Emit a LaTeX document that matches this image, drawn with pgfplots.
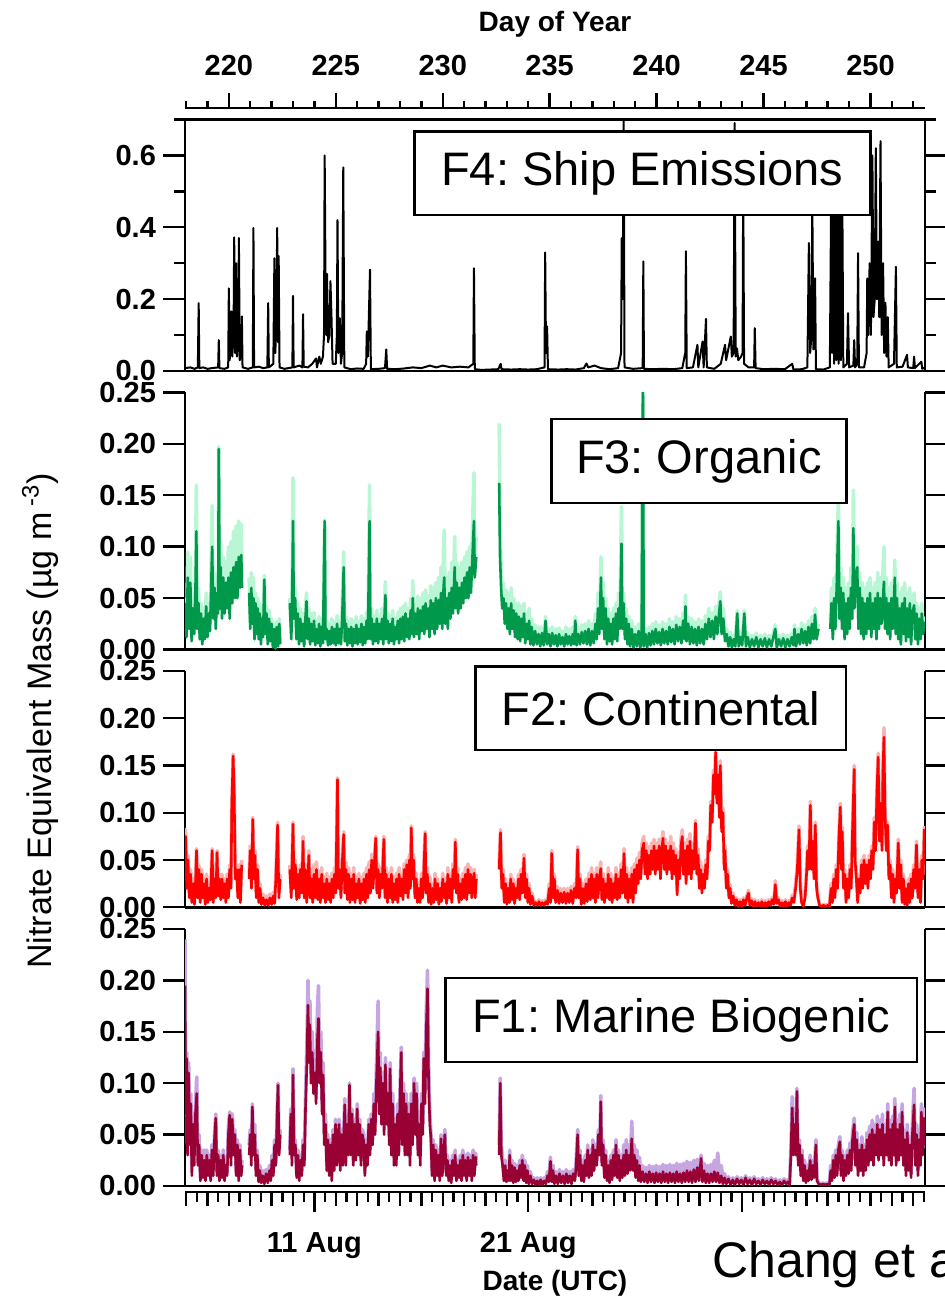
\documentclass[border=0pt]{standalone}
\usepackage{fontspec}
\setmainfont{Liberation Sans}
\usepackage{pgfplots}
\usepackage{pgfplotstable}
\pgfplotsset{compat=1.18}
\frenchspacing
\definecolor{gdark}{RGB}{0,153,76}
\definecolor{glight}{RGB}{185,246,214}
\definecolor{rdark}{RGB}{255,0,0}
\definecolor{rlight}{RGB}{246,182,182}
\definecolor{mdark}{RGB}{153,0,51}
\definecolor{mlight}{RGB}{198,166,224}
\newcommand\tickfont{\fontsize{14.5}{16}\selectfont\bfseries}
\newcommand\labfont{\fontsize{14}{16}\selectfont\bfseries}
\newcommand\boxfont{\fontsize{23.5}{28}\selectfont}

\pgfplotstableread{
x d
217.95 0.008
218.20 0.01
218.40 0.006
218.55 0.01
218.59 0.189
218.62 0.008
218.80 0.01
219.00 0.006
219.20 0.008
219.50 0.01
219.53 0.086
219.56 0.008
219.80 0.006
219.97 0.01
220.00 0.23
220.04 0.03
220.08 0.1
220.12 0.166
220.16 0.04
220.22 0.1
220.25 0.372
220.29 0.05
220.34 0.30
220.38 0.04
220.44 0.1
220.47 0.37
220.51 0.03
220.58 0.05
220.61 0.152
220.64 0.01
220.90 0.006
221.12 0.01
221.15 0.398
221.18 0.01
221.40 0.012
221.60 0.008
221.80 0.01
221.84 0.189
221.87 0.01
222.08 0.02
222.13 0.314
222.17 0.05
222.22 0.12
222.26 0.398
222.30 0.08
222.33 0.32
222.37 0.01
222.60 0.006
222.97 0.01
223.00 0.209
223.03 0.01
223.30 0.015
223.44 0.01
223.47 0.158
223.50 0.012
223.70 0.01
223.90 0.02
224.08 0.035
224.12 0.01
224.23 0.04
224.30 0.02
224.40 0.04
224.45 0.1
224.48 0.60
224.52 0.26
224.56 0.1
224.59 0.27
224.64 0.08
224.70 0.1
224.75 0.25
224.80 0.15
224.85 0.02
225.00 0.02
225.05 0.1
225.08 0.42
225.12 0.05
225.19 0.147
225.24 0.02
225.30 0.05
225.35 0.567
225.40 0.01
225.70 0.005
226.00 0.007
226.30 0.006
226.42 0.02
226.45 0.11
226.50 0.04
226.60 0.282
226.64 0.005
227.00 0.006
227.30 0.008
227.36 0.06
227.40 0.006
227.80 0.005
228.20 0.007
228.60 0.01
229.00 0.008
229.40 0.015
229.70 0.01
230.00 0.015
230.40 0.01
230.80 0.012
231.20 0.01
231.43 0.02
231.46 0.286
231.50 0.005
231.80 0.003
232.20 0.004
232.60 0.005
232.71 0.02
232.75 0.005
233.20 0.004
233.60 0.005
234.00 0.004
234.40 0.005
234.76 0.01
234.79 0.33
234.83 0.05
234.88 0.124
234.92 0.005
235.40 0.004
235.80 0.005
236.20 0.004
236.60 0.008
236.72 0.021
236.80 0.01
237.10 0.015
237.40 0.008
237.80 0.005
238.20 0.008
238.34 0.05
238.37 0.37
238.42 0.2
238.46 0.75
238.50 0.01
238.90 0.006
239.35 0.008
239.38 0.305
239.41 0.006
239.80 0.005
240.30 0.006
240.80 0.005
241.20 0.008
241.34 0.05
241.37 0.333
241.41 0.008
241.70 0.01
241.91 0.073
241.95 0.01
242.15 0.082
242.20 0.01
242.31 0.145
242.35 0.01
242.70 0.006
243.00 0.02
243.20 0.073
243.25 0.03
243.47 0.096
243.52 0.04
243.60 0.05
243.65 0.69
243.70 0.04
243.76 0.063
243.82 0.03
243.95 0.04
244.02 0.05
244.05 0.55
244.09 0.02
244.30 0.01
244.56 0.01
244.59 0.119
244.63 0.008
245.00 0.005
245.50 0.006
246.00 0.005
246.34 0.02
246.40 0.004
246.80 0.005
247.05 0.01
247.12 0.356
247.18 0.05
247.24 0.1
247.28 0.48
247.33 0.06
247.37 0.1
247.41 0.258
247.45 0.005
247.80 0.004
248.10 0.01
248.17 0.55
248.21 0.05
248.26 0.45
248.30 0.02
248.35 0.60
248.40 0.03
248.46 0.50
248.51 0.02
248.57 0.45
248.62 0.03
248.68 0.52
248.73 0.01
248.90 0.02
248.95 0.161
249.00 0.01
249.20 0.015
249.24 0.086
249.28 0.01
249.38 0.02
249.42 0.328
249.46 0.01
249.70 0.01
249.82 0.05
249.85 0.258
249.90 0.1
249.96 0.30
250.02 0.1
250.09 0.60
250.14 0.15
250.20 0.2
250.25 0.62
250.30 0.2
250.36 0.36
250.41 0.15
250.47 0.64
250.52 0.1
250.59 0.3
250.64 0.05
250.70 0.19
250.75 0.04
250.81 0.15
250.85 0.01
251.10 0.02
251.19 0.29
251.23 0.01
251.50 0.012
251.71 0.045
251.75 0.01
252.00 0.008
252.04 0.04
252.08 0.008
252.38 0.026
252.42 0.006
252.55 0.01
}\tabFfour

\pgfplotstableread{
x d l
217.95 0.045 0.05
218.02 0.012 0.015
218.08 0.07 0.095
218.14 0.02 0.03
218.20 0.065 0.09
218.26 0.008 0.01
218.32 0.04 0.05
218.38 0.015 0.02
218.44 0.06 0.075
218.48 0.115 0.16
218.52 0.02 0.03
218.58 0.045 0.06
218.64 0.01 0.012
218.70 0.035 0.045
218.76 0.005 0.008
218.82 0.03 0.04
218.88 0.01 0.015
218.94 0.042 0.055
219.00 0.012 0.02
219.06 0.035 0.045
219.12 0.018 0.025
219.18 0.065 0.09
219.22 0.10 0.14
219.27 0.03 0.04
219.33 0.06 0.075
219.39 0.02 0.03
219.45 0.055 0.07
219.50 0.035 0.045
219.53 0.195 0.197
219.57 0.04 0.05
219.62 0.08 0.105
219.68 0.03 0.045
219.74 0.07 0.09
219.80 0.035 0.05
219.86 0.065 0.085
219.92 0.04 0.055
219.98 0.07 0.10
220.04 0.03 0.045
220.10 0.075 0.105
220.16 0.045 0.06
220.22 0.08 0.115
220.28 0.05 0.065
220.34 0.085 0.12
220.40 0.05 0.07
220.46 0.09 0.125
220.52 0.06 0.08
220.58 0.092 0.122
220.62 0.06 0.07
220.80 nan nan
220.95 0.055 0.07
221.00 0.02 0.03
221.05 0.06 0.075
221.10 0.025 0.035
221.15 0.05 0.07
221.20 0.01 0.015
221.25 0.045 0.055
221.30 0.015 0.02
221.35 0.04 0.05
221.40 0.01 0.015
221.45 0.035 0.045
221.50 0.005 0.01
221.55 0.03 0.04
221.60 0.012 0.02
221.66 0.068 0.072
221.70 0.015 0.02
221.76 0.035 0.042
221.82 0.005 0.01
221.88 0.03 0.038
221.94 0.008 0.012
222.00 0.025 0.03
222.06 0.002 0.004
222.12 0.02 0.025
222.18 0.001 0.002
222.24 0.022 0.027
222.30 0.003 0.005
222.36 0.025 0.03
222.40 0.005 0.006
222.60 nan nan
222.85 0.045 0.05
222.92 0.01 0.015
222.97 0.06 0.09
223.00 0.125 0.167
223.04 0.03 0.04
223.10 0.05 0.06
223.16 0.01 0.015
223.22 0.035 0.045
223.28 0.005 0.008
223.34 0.03 0.04
223.40 0.008 0.01
223.46 0.025 0.035
223.52 0.003 0.005
223.58 0.03 0.038
223.63 0.047 0.055
223.68 0.01 0.015
223.74 0.03 0.04
223.80 0.005 0.008
223.86 0.025 0.035
223.92 0.008 0.012
223.98 0.028 0.036
224.04 0.004 0.006
224.10 0.02 0.028
224.16 0.006 0.01
224.22 0.025 0.032
224.28 0.003 0.005
224.34 0.022 0.03
224.40 0.006 0.01
224.48 0.125 0.126
224.52 0.01 0.015
224.58 0.02 0.028
224.64 0.004 0.006
224.70 0.018 0.025
224.76 0.005 0.008
224.82 0.022 0.03
224.88 0.006 0.01
224.94 0.02 0.027
225.00 0.004 0.006
225.06 0.025 0.033
225.12 0.006 0.01
225.18 0.02 0.028
225.24 0.005 0.008
225.30 0.03 0.04
225.37 0.08 0.095
225.42 0.008 0.012
225.48 0.025 0.032
225.54 0.004 0.006
225.60 0.02 0.027
225.66 0.006 0.01
225.72 0.022 0.03
225.78 0.003 0.005
225.84 0.02 0.028
225.90 0.006 0.01
225.96 0.024 0.032
226.02 0.005 0.008
226.08 0.02 0.027
226.14 0.007 0.01
226.20 0.025 0.033
226.26 0.004 0.006
226.32 0.022 0.03
226.38 0.006 0.01
226.44 0.028 0.036
226.50 0.01 0.014
226.58 0.125 0.16
226.62 0.01 0.015
226.68 0.03 0.04
226.74 0.005 0.008
226.80 0.025 0.033
226.86 0.008 0.012
226.92 0.03 0.038
226.98 0.006 0.01
227.04 0.025 0.033
227.10 0.01 0.014
227.16 0.03 0.04
227.22 0.005 0.008
227.32 0.053 0.066
227.36 0.01 0.015
227.42 0.028 0.036
227.48 0.006 0.01
227.54 0.025 0.033
227.60 0.008 0.012
227.66 0.03 0.038
227.72 0.005 0.008
227.78 0.022 0.03
227.84 0.01 0.014
227.90 0.028 0.036
227.96 0.006 0.01
228.02 0.03 0.04
228.08 0.01 0.014
228.14 0.032 0.042
228.20 0.008 0.012
228.26 0.035 0.045
228.32 0.012 0.018
228.38 0.03 0.04
228.44 0.01 0.015
228.50 0.038 0.05
228.56 0.015 0.02
228.60 0.05 0.067
228.66 0.012 0.018
228.72 0.035 0.045
228.78 0.015 0.02
228.84 0.04 0.052
228.90 0.01 0.015
228.96 0.038 0.05
229.02 0.018 0.025
229.08 0.042 0.055
229.14 0.015 0.02
229.20 0.045 0.058
229.26 0.02 0.028
229.32 0.04 0.052
229.38 0.012 0.018
229.44 0.048 0.062
229.50 0.02 0.028
229.56 0.045 0.06
229.62 0.015 0.022
229.68 0.05 0.065
229.74 0.02 0.03
229.80 0.048 0.07
229.86 0.025 0.035
229.92 0.055 0.08
229.98 0.02 0.03
230.04 0.06 0.10
230.07 0.07 0.116
230.12 0.025 0.035
230.18 0.05 0.07
230.24 0.02 0.03
230.30 0.055 0.075
230.36 0.03 0.04
230.42 0.06 0.085
230.48 0.035 0.045
230.56 0.08 0.11
230.60 0.04 0.055
230.66 0.065 0.085
230.72 0.035 0.048
230.78 0.06 0.08
230.84 0.04 0.055
230.90 0.065 0.085
230.96 0.045 0.06
231.02 0.07 0.09
231.08 0.05 0.065
231.14 0.075 0.095
231.20 0.05 0.068
231.26 0.08 0.10
231.32 0.055 0.072
231.38 0.085 0.11
231.46 0.125 0.172
231.50 0.07 0.09
231.57 0.09 0.11
232.00 nan nan
232.64 0.162 0.22
232.68 0.09 0.12
232.73 0.06 0.08
232.78 0.04 0.05
232.84 0.05 0.065
232.90 0.025 0.035
232.96 0.045 0.058
233.02 0.02 0.03
233.08 0.04 0.055
233.14 0.015 0.022
233.20 0.045 0.06
233.26 0.02 0.028
233.32 0.038 0.05
233.38 0.012 0.018
233.44 0.035 0.045
233.50 0.01 0.015
233.56 0.032 0.045
233.62 0.008 0.012
233.68 0.03 0.042
233.74 0.012 0.016
233.80 0.035 0.045
233.86 0.006 0.01
233.92 0.025 0.035
233.98 0.01 0.014
234.04 0.028 0.04
234.10 0.005 0.008
234.16 0.022 0.03
234.24 0.004 0.006
234.32 0.018 0.024
234.40 0.005 0.008
234.48 0.015 0.022
234.56 0.003 0.005
234.64 0.016 0.022
234.72 0.004 0.006
234.81 0.028 0.032
234.88 0.005 0.008
234.96 0.015 0.02
235.04 0.003 0.005
235.12 0.016 0.022
235.20 0.005 0.008
235.28 0.014 0.02
235.36 0.003 0.005
235.44 0.015 0.021
235.52 0.005 0.008
235.60 0.012 0.018
235.68 0.003 0.005
235.76 0.015 0.022
235.84 0.005 0.008
235.92 0.013 0.02
236.00 0.004 0.006
236.08 0.015 0.022
236.14 0.005 0.008
236.20 0.028 0.032
236.26 0.004 0.006
236.34 0.015 0.022
236.42 0.005 0.008
236.50 0.017 0.024
236.58 0.006 0.009
236.66 0.018 0.025
236.74 0.005 0.008
236.82 0.02 0.028
236.90 0.004 0.006
236.98 0.018 0.025
237.06 0.006 0.01
237.14 0.025 0.035
237.20 0.01 0.015
237.26 0.04 0.055
237.32 0.015 0.02
237.40 0.07 0.09
237.44 0.02 0.03
237.50 0.05 0.065
237.56 0.01 0.015
237.62 0.04 0.05
237.68 0.005 0.008
237.74 0.03 0.04
237.80 0.008 0.012
237.86 0.025 0.035
237.92 0.005 0.008
237.98 0.03 0.04
238.04 0.01 0.015
238.10 0.035 0.045
238.16 0.008 0.012
238.22 0.04 0.055
238.28 0.02 0.03
238.36 0.103 0.139
238.40 0.02 0.03
238.46 0.045 0.055
238.52 0.01 0.014
238.58 0.03 0.04
238.64 0.005 0.008
238.70 0.025 0.032
238.76 0.003 0.005
238.84 0.02 0.028
238.92 0.002 0.004
239.00 0.015 0.022
239.08 0.003 0.005
239.16 0.018 0.025
239.24 0.002 0.004
239.30 0.01 0.014
239.36 0.26 0.26
239.40 0.003 0.005
239.48 0.015 0.02
239.56 0.002 0.004
239.64 0.016 0.022
239.72 0.004 0.006
239.80 0.018 0.025
239.88 0.005 0.008
239.96 0.02 0.027
240.04 0.006 0.009
240.12 0.017 0.024
240.20 0.004 0.006
240.28 0.02 0.027
240.36 0.006 0.009
240.44 0.018 0.025
240.52 0.005 0.008
240.60 0.022 0.03
240.68 0.007 0.01
240.76 0.02 0.027
240.84 0.005 0.008
240.92 0.024 0.032
241.00 0.008 0.012
241.08 0.022 0.03
241.16 0.006 0.009
241.24 0.028 0.036
241.30 0.01 0.014
241.35 0.042 0.053
241.40 0.008 0.012
241.48 0.025 0.032
241.56 0.005 0.008
241.64 0.022 0.03
241.72 0.006 0.009
241.80 0.02 0.027
241.88 0.004 0.006
241.96 0.022 0.03
242.04 0.006 0.009
242.12 0.02 0.028
242.20 0.005 0.008
242.28 0.025 0.033
242.36 0.01 0.014
242.44 0.03 0.04
242.52 0.012 0.017
242.60 0.028 0.036
242.68 0.01 0.014
242.76 0.032 0.042
242.84 0.015 0.02
242.92 0.035 0.045
242.98 0.047 0.056
243.04 0.015 0.02
243.12 0.03 0.04
243.20 0.008 0.012
243.28 0.015 0.02
243.36 0.003 0.005
243.44 0.012 0.017
243.52 0.002 0.004
243.60 0.01 0.014
243.68 0.003 0.005
243.77 0.035 0.038
243.84 0.003 0.005
243.92 0.012 0.017
244.00 0.004 0.006
244.10 0.035 0.038
244.18 0.003 0.005
244.26 0.012 0.016
244.36 0.002 0.004
244.46 0.01 0.014
244.56 0.003 0.005
244.66 0.012 0.016
244.76 0.002 0.004
244.86 0.01 0.014
244.96 0.003 0.005
245.06 0.011 0.015
245.16 0.002 0.004
245.26 0.01 0.014
245.36 0.003 0.005
245.46 0.012 0.016
245.55 0.02 0.024
245.62 0.002 0.004
245.72 0.01 0.014
245.82 0.003 0.005
245.92 0.011 0.015
246.02 0.002 0.004
246.12 0.01 0.014
246.22 0.003 0.005
246.32 0.012 0.016
246.40 0.004 0.006
246.45 0.02 0.024
246.52 0.003 0.005
246.62 0.015 0.02
246.70 0.005 0.008
246.78 0.02 0.026
246.86 0.006 0.009
246.94 0.018 0.024
247.02 0.004 0.006
247.10 0.022 0.028
247.18 0.006 0.009
247.26 0.025 0.032
247.34 0.01 0.014
247.41 0.034 0.04
247.48 0.01 0.014
247.57 0.02 0.025
247.80 nan nan
248.12 0.02 0.03
248.18 0.045 0.06
248.24 0.01 0.015
248.30 0.05 0.07
248.36 0.02 0.03
248.42 0.06 0.08
248.50 0.125 0.147
248.55 0.03 0.04
248.61 0.06 0.08
248.67 0.02 0.03
248.73 0.055 0.07
248.79 0.01 0.015
248.85 0.045 0.06
248.91 0.015 0.02
248.97 0.05 0.065
249.03 0.02 0.03
249.09 0.06 0.08
249.15 0.03 0.04
249.20 0.118 0.155
249.25 0.04 0.05
249.32 0.07 0.09
249.38 0.08 0.10
249.44 0.02 0.03
249.50 0.06 0.075
249.56 0.015 0.02
249.62 0.05 0.065
249.68 0.01 0.015
249.74 0.045 0.06
249.80 0.015 0.02
249.86 0.05 0.065
249.92 0.02 0.03
249.98 0.055 0.07
250.04 0.012 0.018
250.10 0.045 0.06
250.16 0.02 0.028
250.22 0.05 0.065
250.28 0.01 0.015
250.34 0.055 0.075
250.40 0.02 0.03
250.46 0.05 0.07
250.52 0.025 0.035
250.63 0.066 0.10
250.68 0.02 0.03
250.74 0.05 0.07
250.80 0.015 0.02
250.86 0.045 0.06
250.92 0.01 0.015
250.98 0.05 0.065
251.04 0.02 0.028
251.14 0.07 0.087
251.18 0.015 0.02
251.24 0.05 0.065
251.30 0.01 0.015
251.36 0.04 0.055
251.42 0.005 0.008
251.48 0.045 0.06
251.54 0.015 0.02
251.60 0.05 0.065
251.66 0.008 0.012
251.72 0.04 0.055
251.78 0.012 0.018
251.84 0.045 0.06
251.90 0.005 0.008
251.96 0.035 0.045
252.04 0.043 0.055
252.10 0.01 0.015
252.16 0.035 0.045
252.22 0.005 0.008
252.28 0.03 0.04
252.34 0.01 0.015
252.40 0.035 0.045
252.46 0.015 0.02
252.52 0.027 0.032
}\tabFthree

\pgfplotstableread{
x d l
217.95 0.06 0.065
217.98 0.075 0.082
218.03 0.02 0.03
218.09 0.05 0.055
218.15 0.01 0.015
218.21 0.035 0.04
218.27 0.005 0.008
218.33 0.025 0.03
218.39 0.003 0.005
218.45 0.03 0.035
218.49 0.06 0.062
218.54 0.01 0.015
218.60 0.04 0.045
218.66 0.005 0.008
218.72 0.035 0.04
218.78 0.01 0.015
218.84 0.025 0.03
218.90 0.003 0.005
218.96 0.03 0.035
219.02 0.005 0.008
219.08 0.02 0.025
219.14 0.008 0.01
219.22 0.06 0.062
219.27 0.005 0.008
219.33 0.03 0.035
219.39 0.01 0.015
219.45 0.058 0.06
219.50 0.012 0.018
219.56 0.03 0.035
219.62 0.008 0.01
219.68 0.03 0.035
219.74 0.01 0.015
219.80 0.025 0.03
219.86 0.005 0.008
219.92 0.03 0.035
219.98 0.01 0.015
220.04 0.04 0.045
220.10 0.02 0.025
220.14 0.108 0.11
220.20 0.16 0.162
220.25 0.12 0.125
220.30 0.03 0.035
220.36 0.04 0.045
220.42 0.01 0.015
220.48 0.04 0.045
220.54 0.005 0.008
220.60 0.045 0.05
220.80 nan nan
220.95 0.03 0.035
221.00 0.06 0.065
221.06 0.02 0.025
221.12 0.093 0.095
221.17 0.03 0.035
221.22 0.055 0.06
221.28 0.01 0.015
221.34 0.04 0.045
221.40 0.005 0.008
221.46 0.02 0.025
221.52 0.003 0.005
221.60 0.01 0.014
221.68 0.002 0.004
221.76 0.008 0.012
221.84 0.002 0.004
221.92 0.01 0.014
222.00 0.003 0.005
222.08 0.012 0.016
222.14 0.004 0.006
222.20 0.03 0.035
222.28 0.087 0.09
222.34 0.01 0.015
222.40 0.03 0.035
222.60 nan nan
222.85 0.04 0.045
222.92 0.01 0.015
223.00 0.088 0.09
223.05 0.02 0.025
223.11 0.045 0.05
223.17 0.008 0.012
223.23 0.035 0.04
223.29 0.01 0.015
223.35 0.04 0.045
223.41 0.015 0.02
223.47 0.07 0.075
223.52 0.01 0.015
223.58 0.04 0.045
223.64 0.005 0.008
223.70 0.03 0.035
223.74 0.055 0.06
223.80 0.01 0.015
223.86 0.03 0.04
223.92 0.005 0.008
223.98 0.035 0.045
224.04 0.01 0.015
224.10 0.04 0.048
224.16 0.008 0.012
224.22 0.03 0.038
224.28 0.005 0.008
224.34 0.035 0.042
224.40 0.01 0.015
224.46 0.025 0.032
224.52 0.005 0.008
224.58 0.03 0.036
224.64 0.008 0.012
224.70 0.025 0.032
224.76 0.005 0.008
224.82 0.03 0.036
224.88 0.01 0.015
224.94 0.035 0.042
225.00 0.015 0.02
225.08 0.135 0.137
225.12 0.02 0.025
225.18 0.04 0.048
225.24 0.01 0.015
225.30 0.045 0.05
225.37 0.077 0.08
225.42 0.015 0.02
225.48 0.04 0.048
225.54 0.008 0.012
225.60 0.035 0.042
225.66 0.005 0.008
225.72 0.03 0.036
225.78 0.008 0.012
225.84 0.035 0.042
225.90 0.005 0.008
225.96 0.025 0.032
226.02 0.01 0.015
226.08 0.03 0.036
226.14 0.004 0.006
226.20 0.025 0.032
226.26 0.008 0.012
226.32 0.03 0.036
226.38 0.005 0.008
226.44 0.035 0.042
226.50 0.01 0.015
226.56 0.04 0.048
226.62 0.015 0.02
226.68 0.05 0.056
226.74 0.02 0.025
226.80 0.045 0.05
226.87 0.073 0.075
226.92 0.015 0.02
226.98 0.04 0.046
227.04 0.01 0.015
227.10 0.035 0.042
227.16 0.02 0.025
227.25 0.072 0.075
227.30 0.01 0.015
227.36 0.035 0.042
227.42 0.005 0.008
227.48 0.03 0.036
227.54 0.01 0.015
227.60 0.035 0.042
227.66 0.005 0.008
227.72 0.025 0.032
227.78 0.008 0.012
227.84 0.03 0.036
227.90 0.005 0.008
227.96 0.035 0.042
228.02 0.012 0.017
228.08 0.03 0.036
228.14 0.008 0.012
228.20 0.04 0.046
228.26 0.015 0.02
228.32 0.045 0.05
228.38 0.01 0.015
228.44 0.05 0.056
228.49 0.02 0.025
228.53 0.084 0.086
228.58 0.03 0.035
228.64 0.05 0.056
228.70 0.01 0.015
228.76 0.03 0.036
228.82 0.005 0.008
228.88 0.02 0.025
228.94 0.005 0.008
229.00 0.03 0.036
229.06 0.01 0.015
229.12 0.04 0.046
229.18 0.078 0.08
229.22 0.015 0.02
229.28 0.035 0.042
229.34 0.005 0.008
229.40 0.025 0.032
229.46 0.003 0.005
229.52 0.02 0.025
229.58 0.005 0.008
229.64 0.03 0.036
229.70 0.008 0.012
229.76 0.025 0.03
229.82 0.003 0.005
229.88 0.02 0.025
229.94 0.006 0.01
230.00 0.03 0.036
230.06 0.01 0.015
230.12 0.025 0.03
230.18 0.004 0.006
230.24 0.035 0.042
230.30 0.01 0.015
230.36 0.03 0.036
230.42 0.005 0.008
230.48 0.04 0.046
230.54 0.02 0.025
230.59 0.069 0.072
230.64 0.015 0.02
230.70 0.035 0.042
230.76 0.005 0.008
230.82 0.025 0.03
230.88 0.008 0.012
230.94 0.03 0.036
231.00 0.01 0.015
231.06 0.035 0.042
231.12 0.008 0.012
231.18 0.04 0.046
231.24 0.015 0.02
231.30 0.035 0.042
231.36 0.01 0.015
231.42 0.03 0.036
231.47 0.036 0.04
231.52 0.01 0.015
231.57 0.03 0.035
232.00 nan nan
232.64 0.04 0.045
232.70 0.079 0.082
232.76 0.02 0.025
232.82 0.035 0.04
232.88 0.005 0.008
232.94 0.025 0.03
233.00 0.003 0.005
233.06 0.02 0.025
233.12 0.005 0.008
233.18 0.03 0.035
233.24 0.008 0.012
233.30 0.025 0.03
233.36 0.004 0.006
233.42 0.02 0.025
233.48 0.01 0.014
233.54 0.03 0.035
233.60 0.008 0.012
233.66 0.035 0.04
233.72 0.015 0.02
233.80 0.052 0.056
233.86 0.01 0.015
233.92 0.03 0.035
233.98 0.005 0.008
234.04 0.02 0.025
234.10 0.003 0.005
234.18 0.012 0.015
234.26 0.002 0.003
234.34 0.005 0.006
234.42 0.002 0.003
234.50 0.006 0.008
234.58 0.002 0.003
234.66 0.005 0.007
234.74 0.002 0.003
234.82 0.006 0.008
234.90 0.003 0.004
234.98 0.02 0.025
235.04 0.005 0.008
235.10 0.057 0.06
235.16 0.01 0.015
235.22 0.03 0.035
235.28 0.005 0.008
235.36 0.018 0.022
235.44 0.004 0.006
235.52 0.015 0.02
235.60 0.005 0.008
235.68 0.016 0.02
235.76 0.004 0.006
235.84 0.015 0.02
235.92 0.005 0.008
236.00 0.018 0.022
236.08 0.004 0.006
236.16 0.02 0.025
236.24 0.01 0.014
236.31 0.061 0.064
236.36 0.01 0.014
236.42 0.03 0.035
236.48 0.003 0.005
236.56 0.02 0.025
236.62 0.004 0.006
236.70 0.025 0.03
236.76 0.006 0.009
236.84 0.03 0.036
236.90 0.008 0.012
236.96 0.035 0.042
237.02 0.01 0.015
237.08 0.03 0.036
237.14 0.005 0.008
237.20 0.035 0.042
237.26 0.01 0.015
237.32 0.03 0.036
237.39 0.041 0.048
237.44 0.008 0.012
237.50 0.03 0.036
237.56 0.005 0.008
237.62 0.025 0.03
237.68 0.01 0.015
237.74 0.035 0.042
237.80 0.008 0.012
237.86 0.03 0.036
237.92 0.005 0.008
237.98 0.025 0.03
238.04 0.01 0.015
238.10 0.035 0.042
238.16 0.008 0.012
238.22 0.03 0.036
238.28 0.01 0.015
238.34 0.04 0.046
238.40 0.015 0.02
238.48 0.057 0.062
238.54 0.01 0.015
238.60 0.035 0.042
238.66 0.005 0.008
238.72 0.03 0.036
238.78 0.01 0.015
238.84 0.035 0.042
238.90 0.005 0.008
238.96 0.04 0.046
239.02 0.015 0.02
239.08 0.045 0.052
239.14 0.025 0.03
239.20 0.05 0.058
239.26 0.03 0.036
239.32 0.06 0.068
239.40 0.068 0.075
239.46 0.035 0.042
239.52 0.06 0.068
239.58 0.03 0.038
239.64 0.055 0.064
239.70 0.035 0.042
239.76 0.06 0.068
239.82 0.04 0.048
239.88 0.065 0.072
239.94 0.035 0.042
240.00 0.06 0.068
240.06 0.04 0.048
240.12 0.065 0.072
240.18 0.03 0.038
240.24 0.06 0.068
240.30 0.073 0.08
240.36 0.04 0.048
240.42 0.065 0.072
240.48 0.035 0.042
240.54 0.06 0.068
240.60 0.04 0.048
240.66 0.065 0.075
240.72 0.03 0.038
240.78 0.06 0.068
240.84 0.035 0.042
240.90 0.055 0.062
240.96 0.013 0.018
241.02 0.05 0.058
241.08 0.03 0.038
241.14 0.065 0.072
241.20 0.075 0.082
241.26 0.035 0.042
241.32 0.06 0.068
241.38 0.025 0.03
241.44 0.065 0.072
241.50 0.035 0.042
241.56 0.07 0.078
241.62 0.03 0.036
241.68 0.06 0.068
241.74 0.04 0.048
241.82 0.089 0.092
241.88 0.035 0.042
241.94 0.055 0.062
242.00 0.02 0.025
242.06 0.04 0.048
242.12 0.015 0.02
242.18 0.035 0.042
242.24 0.02 0.025
242.30 0.045 0.05
242.36 0.03 0.036
242.42 0.07 0.075
242.48 0.06 0.065
242.53 0.108 0.112
242.60 0.09 0.095
242.66 0.14 0.145
242.72 0.12 0.125
242.76 0.164 0.168
242.82 0.11 0.115
242.88 0.14 0.145
242.94 0.095 0.1
242.98 0.15 0.155
243.04 0.08 0.085
243.10 0.1 0.105
243.16 0.04 0.045
243.20 0.06 0.065
243.26 0.02 0.025
243.32 0.035 0.04
243.38 0.01 0.014
243.44 0.02 0.024
243.50 0.004 0.006
243.58 0.012 0.015
243.66 0.002 0.003
243.74 0.008 0.01
243.82 0.001 0.002
243.90 0.006 0.008
243.98 0.001 0.002
244.06 0.008 0.01
244.14 0.002 0.003
244.22 0.01 0.012
244.30 0.015 0.018
244.36 0.002 0.003
244.44 0.007 0.009
244.52 0.001 0.002
244.60 0.006 0.008
244.68 0.001 0.002
244.76 0.005 0.007
244.84 0.001 0.002
244.92 0.006 0.008
245.00 0.001 0.002
245.08 0.005 0.007
245.16 0.001 0.002
245.24 0.006 0.008
245.32 0.002 0.003
245.40 0.008 0.01
245.48 0.003 0.004
245.55 0.024 0.028
245.62 0.004 0.006
245.70 0.008 0.01
245.78 0.001 0.002
245.86 0.005 0.007
245.94 0.001 0.002
246.02 0.006 0.008
246.10 0.001 0.002
246.18 0.005 0.007
246.26 0.002 0.003
246.34 0.01 0.013
246.42 0.005 0.008
246.50 0.02 0.025
246.58 0.04 0.045
246.66 0.082 0.086
246.72 0.02 0.025
246.78 0.005 0.008
246.86 0.001 0.002
246.94 0.01 0.014
247.00 0.03 0.035
247.06 0.06 0.065
247.12 0.04 0.045
247.19 0.108 0.112
247.24 0.04 0.045
247.30 0.07 0.075
247.36 0.03 0.035
247.42 0.087 0.09
247.48 0.02 0.025
247.54 0.01 0.012
247.62 0.002 0.003
247.70 0.001 0.002
247.80 0.002 0.003
247.90 0.001 0.002
248.00 0.002 0.003
248.08 0.001 0.002
248.16 0.02 0.025
248.22 0.005 0.008
248.28 0.03 0.035
248.34 0.01 0.015
248.40 0.04 0.045
248.46 0.02 0.025
248.52 0.07 0.075
248.59 0.106 0.11
248.64 0.04 0.045
248.68 0.08 0.085
248.74 0.02 0.025
248.80 0.035 0.04
248.86 0.005 0.008
248.92 0.03 0.035
248.98 0.01 0.014
249.04 0.04 0.045
249.10 0.02 0.025
249.16 0.08 0.085
249.24 0.146 0.15
249.28 0.05 0.055
249.34 0.03 0.035
249.40 0.005 0.008
249.46 0.03 0.035
249.52 0.015 0.02
249.58 0.045 0.05
249.64 0.02 0.025
249.70 0.05 0.055
249.76 0.025 0.03
249.82 0.045 0.05
249.88 0.02 0.025
249.94 0.05 0.055
250.00 0.03 0.035
250.06 0.06 0.065
250.12 0.04 0.045
250.18 0.09 0.095
250.24 0.06 0.065
250.30 0.12 0.125
250.36 0.159 0.163
250.42 0.07 0.075
250.48 0.11 0.115
250.54 0.06 0.065
250.58 0.14 0.145
250.63 0.18 0.19
250.68 0.1 0.105
250.74 0.06 0.065
250.80 0.087 0.09
250.86 0.03 0.035
250.92 0.045 0.05
250.98 0.01 0.014
251.04 0.035 0.04
251.10 0.005 0.008
251.16 0.03 0.035
251.22 0.015 0.02
251.30 0.068 0.072
251.36 0.02 0.025
251.42 0.045 0.05
251.48 0.005 0.008
251.54 0.03 0.035
251.60 0.003 0.005
251.66 0.02 0.025
251.72 0.002 0.004
251.78 0.025 0.03
251.84 0.005 0.008
251.90 0.03 0.035
251.96 0.01 0.014
252.02 0.04 0.045
252.08 0.02 0.025
252.15 0.066 0.07
252.22 0.01 0.015
252.28 0.04 0.045
252.34 0.005 0.008
252.40 0.05 0.055
252.46 0.03 0.035
252.52 0.083 0.086
}\tabFtwo

\pgfplotstableread{
x d l
217.95 0.195 0.24
217.97 0.12 0.15
218.00 0.07 0.09
218.03 0.124 0.13
218.07 0.03 0.04
218.12 0.11 0.12
218.17 0.04 0.05
218.22 0.08 0.09
218.27 0.01 0.02
218.33 0.06 0.07
218.38 0.02 0.03
218.44 0.07 0.08
218.50 0.09 0.106
218.55 0.02 0.03
218.61 0.04 0.05
218.67 0.005 0.01
218.73 0.03 0.035
218.79 0.008 0.012
218.85 0.025 0.035
218.91 0.005 0.01
218.97 0.03 0.035
219.03 0.01 0.015
219.09 0.025 0.03
219.15 0.005 0.01
219.21 0.035 0.04
219.27 0.01 0.015
219.33 0.045 0.05
219.39 0.066 0.07
219.44 0.01 0.015
219.50 0.03 0.035
219.56 0.005 0.01
219.62 0.025 0.03
219.68 0.008 0.012
219.74 0.03 0.035
219.80 0.005 0.01
219.86 0.02 0.025
219.92 0.01 0.015
219.98 0.05 0.058
220.04 0.069 0.072
220.10 0.02 0.03
220.16 0.065 0.07
220.22 0.03 0.04
220.28 0.05 0.055
220.34 0.01 0.015
220.40 0.04 0.045
220.46 0.005 0.01
220.52 0.035 0.04
220.58 0.01 0.015
220.62 0.02 0.025
220.80 nan nan
220.95 0.03 0.04
221.00 0.05 0.055
221.05 0.02 0.03
221.10 0.077 0.08
221.15 0.03 0.04
221.21 0.05 0.06
221.27 0.01 0.015
221.33 0.03 0.035
221.39 0.004 0.008
221.45 0.015 0.02
221.51 0.003 0.006
221.58 0.01 0.015
221.66 0.002 0.004
221.74 0.012 0.016
221.82 0.003 0.006
221.90 0.015 0.02
221.96 0.005 0.008
222.02 0.025 0.03
222.08 0.01 0.015
222.14 0.04 0.045
222.20 0.02 0.025
222.26 0.07 0.075
222.30 0.098 0.1
222.35 0.03 0.035
222.40 0.05 0.055
222.60 nan nan
222.85 0.03 0.035
222.90 0.07 0.075
222.95 0.02 0.03
223.00 0.108 0.114
223.05 0.03 0.04
223.11 0.04 0.045
223.17 0.008 0.012
223.23 0.03 0.035
223.29 0.005 0.01
223.35 0.025 0.03
223.41 0.01 0.015
223.47 0.04 0.045
223.53 0.02 0.03
223.59 0.08 0.09
223.65 0.12 0.14
223.70 0.176 0.2
223.75 0.12 0.14
223.79 0.157 0.18
223.84 0.1 0.12
223.90 0.13 0.15
223.96 0.09 0.1
224.02 0.11 0.13
224.08 0.08 0.09
224.14 0.14 0.17
224.19 0.163 0.195
224.24 0.1 0.12
224.30 0.13 0.15
224.36 0.07 0.08
224.41 0.108 0.12
224.46 0.04 0.05
224.52 0.06 0.07
224.58 0.015 0.02
224.63 0.045 0.05
224.69 0.01 0.015
224.75 0.04 0.045
224.81 0.005 0.01
224.87 0.05 0.055
224.93 0.015 0.02
224.99 0.06 0.065
225.05 0.02 0.025
225.11 0.045 0.05
225.15 0.06 0.065
225.21 0.015 0.02
225.27 0.05 0.055
225.33 0.02 0.025
225.42 0.079 0.085
225.47 0.02 0.03
225.53 0.06 0.065
225.59 0.03 0.035
225.64 0.098 0.1
225.70 0.03 0.035
225.76 0.07 0.075
225.82 0.02 0.025
225.88 0.06 0.065
225.94 0.025 0.03
226.00 0.075 0.08
226.06 0.03 0.035
226.12 0.06 0.065
226.18 0.02 0.025
226.24 0.05 0.055
226.31 0.043 0.05
226.36 0.01 0.015
226.42 0.04 0.045
226.48 0.02 0.025
226.54 0.06 0.065
226.60 0.03 0.035
226.66 0.065 0.07
226.72 0.04 0.045
226.78 0.08 0.09
226.84 0.05 0.06
226.90 0.1 0.115
226.98 0.15 0.18
227.03 0.07 0.08
227.08 0.115 0.13
227.14 0.06 0.07
227.20 0.1 0.11
227.26 0.05 0.06
227.32 0.118 0.125
227.38 0.06 0.07
227.44 0.09 0.1
227.50 0.04 0.05
227.54 0.114 0.12
227.60 0.03 0.04
227.66 0.08 0.09
227.72 0.02 0.03
227.77 0.06 0.065
227.83 0.02 0.03
227.89 0.07 0.08
227.95 0.03 0.04
228.01 0.09 0.1
228.06 0.13 0.135
228.11 0.04 0.05
228.17 0.09 0.1
228.23 0.03 0.04
228.29 0.08 0.09
228.35 0.03 0.04
228.41 0.07 0.08
228.47 0.02 0.03
228.53 0.08 0.09
228.59 0.04 0.05
228.66 0.10 0.105
228.72 0.05 0.06
228.78 0.09 0.1
228.84 0.03 0.04
228.89 0.06 0.07
228.95 0.02 0.03
229.01 0.08 0.09
229.07 0.05 0.06
229.11 0.124 0.13
229.17 0.08 0.09
229.23 0.15 0.17
229.29 0.192 0.21
229.34 0.1 0.12
229.40 0.06 0.07
229.45 0.046 0.05
229.50 0.01 0.015
229.56 0.04 0.045
229.62 0.005 0.01
229.68 0.035 0.04
229.74 0.01 0.015
229.80 0.03 0.035
229.86 0.005 0.01
229.92 0.046 0.05
229.98 0.01 0.015
230.04 0.03 0.035
230.10 0.05 0.055
230.16 0.01 0.015
230.22 0.025 0.03
230.28 0.005 0.01
230.34 0.02 0.025
230.40 0.003 0.006
230.46 0.025 0.03
230.52 0.01 0.015
230.58 0.03 0.035
230.64 0.005 0.01
230.70 0.02 0.025
230.76 0.008 0.012
230.82 0.025 0.03
230.88 0.005 0.01
230.94 0.03 0.035
231.00 0.01 0.015
231.06 0.025 0.03
231.12 0.005 0.01
231.18 0.028 0.032
231.24 0.01 0.015
231.30 0.025 0.03
231.36 0.005 0.01
231.42 0.03 0.035
231.48 0.01 0.015
231.54 0.028 0.032
231.57 0.02 0.025
232.00 nan nan
232.64 0.03 0.04
232.69 0.1 0.105
232.74 0.03 0.04
232.80 0.02 0.025
232.86 0.005 0.01
232.92 0.02 0.025
232.98 0.004 0.008
233.04 0.015 0.02
233.10 0.005 0.01
233.13 0.03 0.035
233.18 0.005 0.01
233.24 0.02 0.025
233.30 0.003 0.006
233.36 0.018 0.022
233.42 0.004 0.008
233.48 0.015 0.02
233.54 0.005 0.01
233.60 0.02 0.025
233.66 0.008 0.012
233.72 0.025 0.03
233.78 0.005 0.01
233.84 0.02 0.025
233.90 0.003 0.006
233.96 0.015 0.02
234.02 0.002 0.004
234.10 0.01 0.014
234.18 0.002 0.004
234.26 0.006 0.008
234.34 0.001 0.003
234.42 0.005 0.008
234.50 0.001 0.003
234.58 0.006 0.008
234.66 0.001 0.003
234.74 0.005 0.008
234.82 0.002 0.004
234.90 0.01 0.014
234.96 0.004 0.007
235.04 0.024 0.028
235.10 0.004 0.007
235.16 0.015 0.02
235.22 0.002 0.004
235.30 0.01 0.014
235.38 0.002 0.004
235.46 0.012 0.016
235.54 0.003 0.005
235.62 0.01 0.014
235.70 0.002 0.004
235.78 0.012 0.016
235.86 0.003 0.005
235.94 0.01 0.014
236.02 0.002 0.004
236.10 0.012 0.016
236.18 0.005 0.008
236.24 0.02 0.025
236.31 0.05 0.055
236.36 0.01 0.015
236.42 0.03 0.035
236.48 0.005 0.008
236.54 0.02 0.025
236.60 0.004 0.007
236.66 0.025 0.03
236.72 0.01 0.014
236.78 0.035 0.04
236.84 0.008 0.012
236.90 0.03 0.035
236.96 0.01 0.015
237.02 0.04 0.045
237.08 0.015 0.02
237.14 0.035 0.04
237.20 0.02 0.025
237.28 0.05 0.055
237.34 0.03 0.035
237.39 0.082 0.088
237.44 0.02 0.025
237.50 0.04 0.045
237.56 0.008 0.012
237.62 0.03 0.035
237.68 0.005 0.008
237.74 0.02 0.025
237.80 0.003 0.006
237.86 0.025 0.03
237.92 0.006 0.01
237.98 0.03 0.035
238.04 0.01 0.015
238.10 0.04 0.045
238.16 0.008 0.012
238.22 0.03 0.035
238.28 0.005 0.008
238.34 0.025 0.03
238.40 0.008 0.012
238.46 0.03 0.04
238.52 0.01 0.015
238.58 0.035 0.045
238.64 0.012 0.018
238.70 0.03 0.04
238.76 0.015 0.02
238.84 0.046 0.063
238.90 0.015 0.02
238.96 0.03 0.04
239.02 0.008 0.012
239.08 0.025 0.035
239.14 0.005 0.01
239.20 0.02 0.028
239.26 0.004 0.008
239.34 0.014 0.02
239.42 0.004 0.012
239.50 0.012 0.018
239.58 0.003 0.012
239.66 0.014 0.02
239.74 0.004 0.013
239.82 0.012 0.019
239.90 0.003 0.012
239.98 0.013 0.02
240.06 0.004 0.013
240.14 0.012 0.019
240.22 0.003 0.012
240.30 0.014 0.021
240.38 0.004 0.013
240.46 0.012 0.02
240.54 0.003 0.012
240.62 0.013 0.021
240.70 0.004 0.013
240.78 0.012 0.02
240.86 0.003 0.012
240.94 0.014 0.022
241.02 0.004 0.013
241.10 0.012 0.021
241.18 0.003 0.012
241.26 0.013 0.022
241.34 0.004 0.013
241.42 0.015 0.024
241.50 0.004 0.013
241.58 0.014 0.023
241.66 0.003 0.012
241.74 0.016 0.025
241.82 0.004 0.013
241.90 0.018 0.026
241.98 0.005 0.013
242.08 0.027 0.03
242.14 0.004 0.012
242.22 0.015 0.022
242.30 0.003 0.01
242.38 0.012 0.02
242.46 0.003 0.01
242.54 0.012 0.021
242.62 0.004 0.012
242.70 0.014 0.025
242.78 0.004 0.013
242.86 0.013 0.032
242.94 0.003 0.012
243.02 0.01 0.02
243.10 0.002 0.008
243.18 0.008 0.012
243.26 0.002 0.004
243.36 0.007 0.009
243.46 0.001 0.003
243.56 0.006 0.008
243.66 0.001 0.003
243.76 0.007 0.009
243.86 0.002 0.004
243.96 0.006 0.008
244.06 0.001 0.003
244.16 0.008 0.01
244.26 0.002 0.004
244.36 0.006 0.008
244.46 0.001 0.003
244.56 0.007 0.009
244.66 0.002 0.004
244.76 0.005 0.007
244.86 0.001 0.003
244.96 0.006 0.008
245.06 0.002 0.004
245.16 0.005 0.007
245.26 0.001 0.003
245.36 0.006 0.008
245.46 0.002 0.004
245.56 0.005 0.007
245.66 0.001 0.003
245.76 0.004 0.006
245.86 0.001 0.003
245.96 0.005 0.007
246.06 0.002 0.004
246.14 0.004 0.006
246.22 0.001 0.003
246.28 0.03 0.035
246.34 0.076 0.087
246.40 0.03 0.04
246.46 0.06 0.07
246.51 0.03 0.04
246.56 0.092 0.095
246.62 0.02 0.025
246.68 0.04 0.045
246.74 0.01 0.015
246.80 0.03 0.035
246.86 0.005 0.008
246.92 0.02 0.025
246.98 0.003 0.006
247.04 0.015 0.02
247.10 0.005 0.008
247.18 0.025 0.03
247.24 0.006 0.01
247.30 0.02 0.025
247.36 0.008 0.012
247.45 0.04 0.045
247.50 0.005 0.008
247.58 0.002 0.003
247.68 0.001 0.002
247.78 0.002 0.003
247.88 0.001 0.002
247.98 0.002 0.003
248.08 0.001 0.002
248.14 0.015 0.02
248.20 0.005 0.008
248.26 0.025 0.03
248.32 0.008 0.012
248.38 0.03 0.035
248.44 0.01 0.015
248.50 0.035 0.04
248.57 0.043 0.048
248.62 0.01 0.015
248.68 0.03 0.035
248.74 0.005 0.008
248.80 0.025 0.03
248.86 0.01 0.014
248.92 0.03 0.035
248.98 0.012 0.016
249.04 0.035 0.042
249.10 0.015 0.02
249.16 0.045 0.052
249.24 0.06 0.066
249.30 0.02 0.025
249.36 0.045 0.052
249.42 0.01 0.015
249.48 0.035 0.04
249.54 0.015 0.02
249.60 0.04 0.048
249.66 0.01 0.014
249.72 0.035 0.04
249.78 0.015 0.02
249.84 0.045 0.052
249.90 0.02 0.025
249.96 0.05 0.058
250.02 0.025 0.03
250.08 0.055 0.064
250.14 0.02 0.028
250.20 0.05 0.06
250.26 0.03 0.036
250.32 0.06 0.068
250.38 0.025 0.032
250.44 0.055 0.064
250.50 0.03 0.038
250.56 0.06 0.07
250.62 0.02 0.028
250.68 0.05 0.06
250.74 0.03 0.036
250.81 0.072 0.08
250.86 0.025 0.032
250.92 0.055 0.064
250.98 0.02 0.028
251.04 0.06 0.068
251.09 0.03 0.036
251.14 0.077 0.085
251.20 0.02 0.028
251.26 0.055 0.064
251.32 0.025 0.032
251.38 0.06 0.07
251.43 0.03 0.038
251.48 0.072 0.08
251.54 0.02 0.028
251.60 0.045 0.054
251.66 0.01 0.015
251.72 0.052 0.06
251.78 0.015 0.02
251.84 0.04 0.048
251.90 0.008 0.012
251.96 0.05 0.06
252.04 0.079 0.095
252.10 0.02 0.028
252.16 0.05 0.06
252.22 0.01 0.015
252.28 0.045 0.055
252.34 0.02 0.028
252.38 0.072 0.08
252.44 0.03 0.036
252.50 0.066 0.075
252.55 0.04 0.05
}\tabFone

\pgfplotsset{
  panel/.style={
    scale only axis, width=370pt,
    xmin=217.95, xmax=252.55,
    axis x line*=bottom, axis y line*=box,
    xtick=\empty,
    tick align=outside,
    axis line style={line width=1.3pt},
    tick style={line width=1.2pt, black},
    major tick length=11pt, minor tick length=5.5pt,
    yticklabel style={font=\tickfont},
    /pgf/number format/assume math mode=true,
    /pgf/number format/fixed, /pgf/number format/fixed zerofill,
    /pgf/number format/precision=2,
    unbounded coords=jump,
    clip=true,
  },
  dk/.style={line width=1.3pt, line join=round, mark=none},
  lt/.style={line width=1.8pt, line join=round, mark=none},
}

\begin{document}
\begin{tikzpicture}
% top Day-of-Year axis
\begin{axis}[scale only axis, width=370pt, height=10pt,
  at={(92.5pt,584.5pt)}, anchor=south west,
  xmin=217.95, xmax=252.55, ymin=0, ymax=1,
  axis x line*=top, axis y line=none,
  tick align=outside,
  xtick={220,225,...,250}, minor xtick={218,219,...,252},
  major tick length=7.5pt, minor tick length=3.5pt,
  axis line style={line width=1.3pt}, tick style={line width=1.2pt, black},
  xticklabel style={font=\tickfont, yshift=5pt},
  /pgf/number format/assume math mode=true,
  xlabel={Day of Year},
  xlabel style={font=\labfont, at={(axis description cs:0.5,1)}, anchor=base, yshift=38pt},
]
\end{axis}

% F4
\begin{axis}[panel, height=125.75pt, at={(92.5pt,463pt)}, anchor=south west,
  axis x line*=box,
  ymin=0, ymax=0.7, ytick={0,0.2,0.4,0.6}, minor ytick={0.1,0.3,0.5,0.7},
  /pgf/number format/precision=1]
\addplot[black, line width=1.0pt, line join=round, mark=none] table[x=x, y=d] {\tabFfour};
\end{axis}

% F3
\begin{axis}[panel, height=128.5pt, at={(92.5pt,323.75pt)}, anchor=south west,
  ymin=0, ymax=0.25, ytick={0,0.05,...,0.25}]
\addplot[lt, glight] table[x=x, y=l] {\tabFthree};
\addplot[dk, gdark] table[x=x, y=d] {\tabFthree};
\end{axis}

% F2
\begin{axis}[panel, height=118.15pt, at={(92.5pt,194.85pt)}, anchor=south west,
  ymin=0, ymax=0.25, ytick={0,0.05,...,0.25}]
\addplot[lt, rlight] table[x=x, y=l] {\tabFtwo};
\addplot[dk, rdark] table[x=x, y=d] {\tabFtwo};
\end{axis}

% F1
\begin{axis}[panel, height=128.5pt, at={(92.5pt,55.5pt)}, anchor=south west,
  ymin=0, ymax=0.25, ytick={0,0.05,...,0.25}]
\addplot[lt, mlight] table[x=x, y=l] {\tabFone};
\addplot[dk, mdark] table[x=x, y=d] {\tabFone};
\end{axis}

% bottom date axis
\begin{axis}[scale only axis, width=370pt, height=10pt,
  at={(92.5pt,52.5pt)}, anchor=south west,
  xmin=217.95, xmax=252.55, ymin=0, ymax=1,
  axis x line*=bottom, axis y line=none,
  tick align=outside,
  xtick={224,234,244}, xticklabels={11 Aug,21 Aug,{}},
  minor xtick={218,219,...,252},
  extra x ticks={218.5,219.5,...,252.5}, extra x tick labels={},
  extra x tick style={major tick length=5pt},
  major tick length=10pt, minor tick length=7pt,
  axis line style={line width=1.3pt}, tick style={line width=1.2pt, black},
  xticklabel style={font=\tickfont, yshift=-6.5pt},
  xlabel={Date (UTC)},
  xlabel style={font=\labfont, at={(axis description cs:0.5,0)}, anchor=base, yshift=-49pt},
]
\end{axis}

% panel labels
\node[draw, line width=1.4pt, fill=white, minimum width=228pt, minimum height=41.6pt, inner sep=0pt, font=\boxfont] at (321.2pt,561.8pt) {F4: Ship Emissions};
\node[draw, line width=1.4pt, fill=white, minimum width=147.7pt, minimum height=42pt, inner sep=0pt, font=\boxfont] at (349.4pt,418pt) {F3: Organic};
\node[draw, line width=1.4pt, fill=white, minimum width=185.2pt, minimum height=41.7pt, inner sep=0pt, font=\boxfont] at (330.4pt,294.3pt) {F2: Continental};
\node[draw, line width=1.4pt, fill=white, minimum width=235.8pt, minimum height=42pt, inner sep=0pt, font=\boxfont] at (340.6pt,138.5pt) {F1: Marine Biogenic};

% y label
\node[rotate=90, font=\fontsize{17}{20}\selectfont] at (20pt,288pt) {Nitrate Equivalent Mass (µg m\,\textsuperscript{-3})};

% author note
\node[anchor=base west, inner sep=0pt, font=\fontsize{25}{30}\selectfont] at (356pt,9.5pt) {Chang et al.};

\pgfresetboundingbox
\useasboundingbox (0,0) rectangle (472.5pt,648.5pt);
\end{tikzpicture}
\end{document}
